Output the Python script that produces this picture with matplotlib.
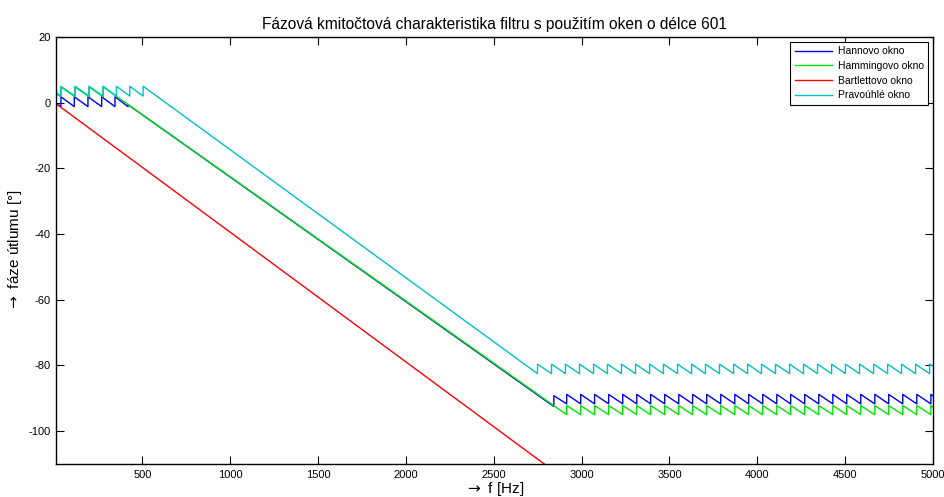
import matplotlib
matplotlib.use("Agg")
import matplotlib.pyplot as plt

plt.rcParams['font.family'] = ['Liberation Sans', 'DejaVu Sans']
plt.rcParams['axes.unicode_minus'] = False

# values: frequency [Hz], phase [deg]
# each window: start point, sawtooth jump positions with tooth top/bottom,
# the long linear part, then the sawtooth at high frequencies
hann_start = (8, -0.2)
hann_left_jumps = [36, 112, 190, 268, 344]
hann_left_top, hann_left_bottom = 1.8, -1.2
hann_mid = [(418, -1.2), (418, -0.6), (2842, -92.5), (2842, -89.2)]
hann_right_jumps = [2915, 2995, 3074, 3154, 3234, 3314, 3393, 3473, 3553, 3632,
                    3712, 3792, 3872, 3951, 4031, 4111, 4190, 4270, 4350, 4430,
                    4509, 4589, 4669, 4748, 4828, 4908, 4988]
hann_right_top, hann_right_bottom = -88.8, -91.7
hann_end = (5000, -89.3)

hamm_start = (8, 2.8)
hamm_left_jumps = [36, 116, 196, 276]
hamm_left_top, hamm_left_bottom = 4.8, 1.8
hamm_mid = []
hamm_right_jumps = hann_right_jumps
hamm_right_top, hamm_right_bottom = -92.2, -95.0
hamm_end = (5000, -92.7)

bart_f = [8, 2800]
bart_deg = [-0.3, -110.5]

rect_start = (8, 3.1)
rect_left_jumps = [36, 116, 196, 276, 352, 428, 504]
rect_left_top, rect_left_bottom = 5.0, 2.0
rect_mid = []
rect_right_jumps = [2749, 2829, 2908, 2988, 3068, 3147, 3227, 3307, 3387, 3466,
                    3546, 3626, 3705, 3785, 3865, 3945, 4024, 4104, 4184, 4263,
                    4343, 4423, 4502, 4582, 4662, 4742, 4821, 4901, 4981]
rect_right_top, rect_right_bottom = -79.6, -82.5
rect_end = (5000, -80.2)

labels = ["Hannovo okno", "Hammingovo okno", "Bartlettovo okno", "Pravoúhlé okno"]


def saw(start, left_jumps, ltop, lbot, mid, right_jumps, rtop, rbot, end):
    f, v = [start[0]], [start[1]]
    for j in left_jumps:
        f += [j, j]
        v += [lbot, ltop]
    for p in mid:
        f.append(p[0])
        v.append(p[1])
    for j in right_jumps:
        f += [j, j]
        v += [rbot, rtop]
    f.append(end[0])
    v.append(end[1])
    return f, v


hann_f, hann_deg = saw(hann_start, hann_left_jumps, hann_left_top, hann_left_bottom,
                       hann_mid, hann_right_jumps, hann_right_top, hann_right_bottom, hann_end)
hamm_f, hamm_deg = saw(hamm_start, hamm_left_jumps, hamm_left_top, hamm_left_bottom,
                       hamm_mid, hamm_right_jumps, hamm_right_top, hamm_right_bottom, hamm_end)
rect_f, rect_deg = saw(rect_start, rect_left_jumps, rect_left_top, rect_left_bottom,
                       rect_mid, rect_right_jumps, rect_right_top, rect_right_bottom, rect_end)

fig = plt.figure(figsize=(9.44, 4.97), dpi=100)
ax = fig.add_axes([0.0593, 0.0664, 0.9290, 0.8592])

lw = 1.0
ax.plot(hann_f, hann_deg, color="#0000ff", lw=lw, label=labels[0])
ax.plot(hamm_f, hamm_deg, color="#00e600", lw=lw, label=labels[1])
ax.plot(bart_f, bart_deg, color="#ff0000", lw=lw, label=labels[2])
ax.plot(rect_f, rect_deg, color="#00c0c8", lw=lw, label=labels[3])

ax.set_xlim(8, 5000)
ax.set_ylim(-110, 20)
ax.set_xticks([500, 1000, 1500, 2000, 2500, 3000, 3500, 4000, 4500, 5000])
ax.set_yticks([-100, -80, -60, -40, -20, 0, 20])
ax.tick_params(direction="in", length=6, width=0.8, top=True, right=True,
               labelsize=8, pad=4)
for s in ax.spines.values():
    s.set_linewidth(1.0)

ax.set_title("Fázová kmitočtová charakteristika filtru s použitím oken o délce 601",
             fontsize=11.2, pad=6)
ax.set_xlabel(r"$\rightarrow$ f [Hz]", fontsize=11, labelpad=0)
ax.set_ylabel(r"$\rightarrow$ fáze útlumu [°]", fontsize=11, labelpad=3)

leg = ax.legend(loc="upper right", fontsize=7.5, fancybox=False, framealpha=1,
                edgecolor="black", borderaxespad=0.45, handlelength=3.6,
                labelspacing=0.45, borderpad=0.45, handletextpad=0.5)
leg.get_frame().set_linewidth(0.8)

fig.savefig("out.png", dpi=100)
